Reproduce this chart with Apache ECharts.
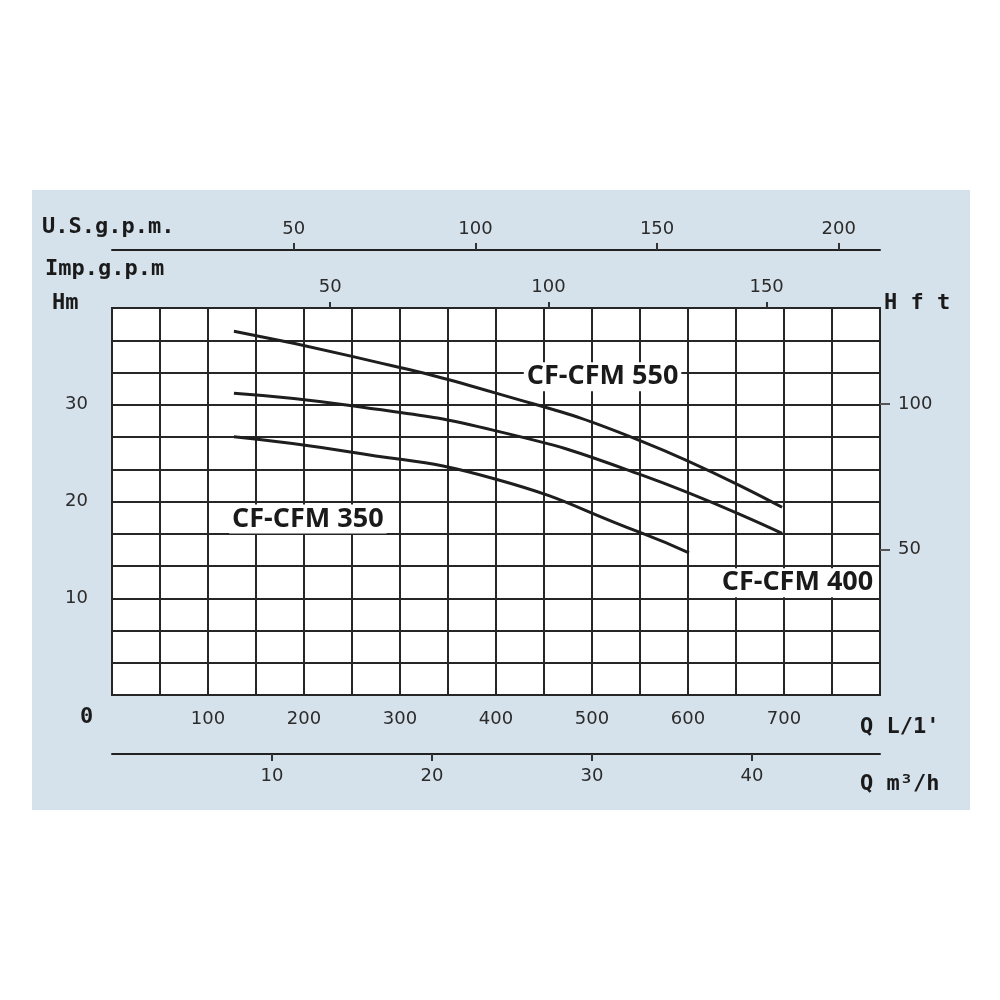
<!DOCTYPE html>
<html>
<head>
<meta charset="utf-8">
<script src="https://cdn.jsdelivr.net/npm/echarts@6/dist/echarts.min.js"></script>
<style>html,body{margin:0;padding:0;background:#fff;}#c{width:1000px;height:1000px;}</style>
</head>
<body>
<div id="c"></div>
<script>
// Flow in L/min, head in m
const flow550 = [127, 250, 400, 550, 698];
const head550 = [37.6, 35.0, 31.2, 26.3, 19.4];
const flow400 = [127, 250, 400, 550, 698];
const head400 = [31.2, 29.9, 27.3, 22.8, 16.7];
const flow350 = [127, 250, 400, 550, 601];
const head350 = [26.7, 25.1, 22.3, 16.8, 14.7];

const seriesNames = ['CF-CFM 550', 'CF-CFM 400', 'CF-CFM 350'];
const labelPos550 = [511, 32.9];
const labelPos400 = [714, 11.6];
const labelPos350 = [204, 18.2];

const flowTicks = [100, 200, 300, 400, 500, 600, 700];
const headTicks = [10, 20, 30];
const ftTicks = [50, 100];
const usgpmTicks = [50, 100, 150, 200];
const impgpmTicks = [50, 100, 150];
const m3hTicks = [10, 20, 30, 40];

const axisNames = {
  usgpm: 'U.S.g.p.m.',
  impgpm: 'Imp.g.p.m',
  hm: 'Hm',
  hft: 'H f t',
  ql: "Q L/1'",
  qm3: 'Q m³/h',
  zero: '0'
};

const L_PER_USGAL = 3.78541, L_PER_IMPGAL = 4.54609, FLOW_MAX = 800, HEAD_MAX = 40;

function pairs(xs, ys) { return xs.map((x, i) => [x, ys[i]]); }

const lineCol = '#1e1e1e';
const gridCol = '#262626';
const numFont = { fontFamily: 'DejaVu Sans', fontSize: 18, color: '#2b2b2b' };
const nameFont = { fontFamily: 'DejaVu Sans Mono', fontWeight: 'bold', fontSize: 22, fill: '#1a1a1a' };

function curve(name, data, lp) {
  return {
    name: name, type: 'line', xAxisIndex: 0, yAxisIndex: 0,
    data: data, smooth: 0.5, showSymbol: false, symbol: 'none',
    lineStyle: { color: lineCol, width: 3 },
    z: 5,
    markPoint: {
      symbol: 'circle', symbolSize: 0,
      data: [{ coord: lp, value: name }],
      label: {
        show: true, position: 'inside', formatter: name,
        fontFamily: 'Open Sans', fontWeight: 'bold', fontSize: 27, color: '#1a1a1a',
        backgroundColor: '#ffffff', padding: [1, 3, 1, 3]
      },
      z: 10
    }
  };
}

const chart = echarts.init(document.getElementById('c'), null, { renderer: 'canvas' });
chart.setOption({
  animation: false,
  backgroundColor: '#ffffff',
  graphic: [
    { type: 'rect', z: -10, shape: { x: 32, y: 190, width: 938, height: 620 }, style: { fill: '#d6e2eb' } },
    { type: 'text', left: 42, top: 216, style: Object.assign({ text: axisNames.usgpm }, nameFont) },
    { type: 'text', left: 45, top: 258, style: Object.assign({ text: axisNames.impgpm }, nameFont) },
    { type: 'text', left: 52, top: 292, style: Object.assign({ text: axisNames.hm }, nameFont) },
    { type: 'text', left: 884, top: 292, style: Object.assign({ text: axisNames.hft }, nameFont) },
    { type: 'text', left: 860, top: 716, style: Object.assign({ text: axisNames.ql }, nameFont) },
    { type: 'text', left: 860, top: 773, style: Object.assign({ text: axisNames.qm3 }, nameFont) },
    { type: 'text', left: 80, top: 706, style: Object.assign({ text: axisNames.zero }, nameFont) }
  ],
  grid: { left: 112, top: 308, width: 768, height: 387, show: true, backgroundColor: '#ffffff', borderColor: gridCol, borderWidth: 2 },
  xAxis: [
    {
      type: 'value', position: 'bottom', min: 0, max: FLOW_MAX, interval: 50,
      axisLine: { show: true, onZero: false, lineStyle: { color: gridCol, width: 2 } }, axisTick: { show: false },
      splitLine: { show: true, lineStyle: { color: gridCol, width: 2 } },
      axisLabel: Object.assign({ customValues: flowTicks, margin: 15 }, numFont)
    },
    {
      type: 'value', position: 'top', offset: 0, min: 0, max: FLOW_MAX / L_PER_IMPGAL,
      axisLine: { show: true, onZero: false, lineStyle: { color: gridCol, width: 2 } },
      axisTick: { show: true, customValues: impgpmTicks, length: 6, lineStyle: { color: '#333', width: 2 } },
      splitLine: { show: false },
      axisLabel: Object.assign({ customValues: impgpmTicks, margin: 12 }, numFont)
    },
    {
      type: 'value', position: 'top', offset: 58, min: 0, max: FLOW_MAX / L_PER_USGAL,
      axisLine: { show: true, onZero: false, lineStyle: { color: '#222', width: 2 } },
      axisTick: { show: true, customValues: usgpmTicks, length: 7, lineStyle: { color: '#333', width: 2 } },
      splitLine: { show: false },
      axisLabel: Object.assign({ customValues: usgpmTicks, margin: 12 }, numFont)
    },
    {
      type: 'value', position: 'bottom', offset: 59, min: 0, max: FLOW_MAX * 60 / 1000,
      axisLine: { show: true, onZero: false, lineStyle: { color: '#222', width: 2 } },
      axisTick: { show: true, inside: false, customValues: m3hTicks, length: 7, lineStyle: { color: '#333', width: 2 } },
      splitLine: { show: false },
      axisLabel: Object.assign({ customValues: m3hTicks, margin: 13 }, numFont)
    }
  ],
  yAxis: [
    {
      type: 'value', position: 'left', min: 0, max: HEAD_MAX, interval: 10 / 3,
      axisLine: { show: true, onZero: false, lineStyle: { color: gridCol, width: 2 } }, axisTick: { show: false },
      splitLine: { show: true, lineStyle: { color: gridCol, width: 2 } },
      axisLabel: Object.assign({ customValues: headTicks, margin: 24 }, numFont)
    },
    {
      type: 'value', position: 'right', min: 0, max: 133,
      axisLine: { show: true, onZero: false, lineStyle: { color: gridCol, width: 2 } },
      axisTick: { show: true, customValues: ftTicks, length: 10, lineStyle: { color: '#555', width: 2 } },
      splitLine: { show: false },
      axisLabel: Object.assign({ customValues: ftTicks, margin: 18 }, numFont)
    }
  ],
  series: [
    curve(seriesNames[0], pairs(flow550, head550), labelPos550),
    curve(seriesNames[1], pairs(flow400, head400), labelPos400),
    curve(seriesNames[2], pairs(flow350, head350), labelPos350)
  ]
});
</script>
</body>
</html>
